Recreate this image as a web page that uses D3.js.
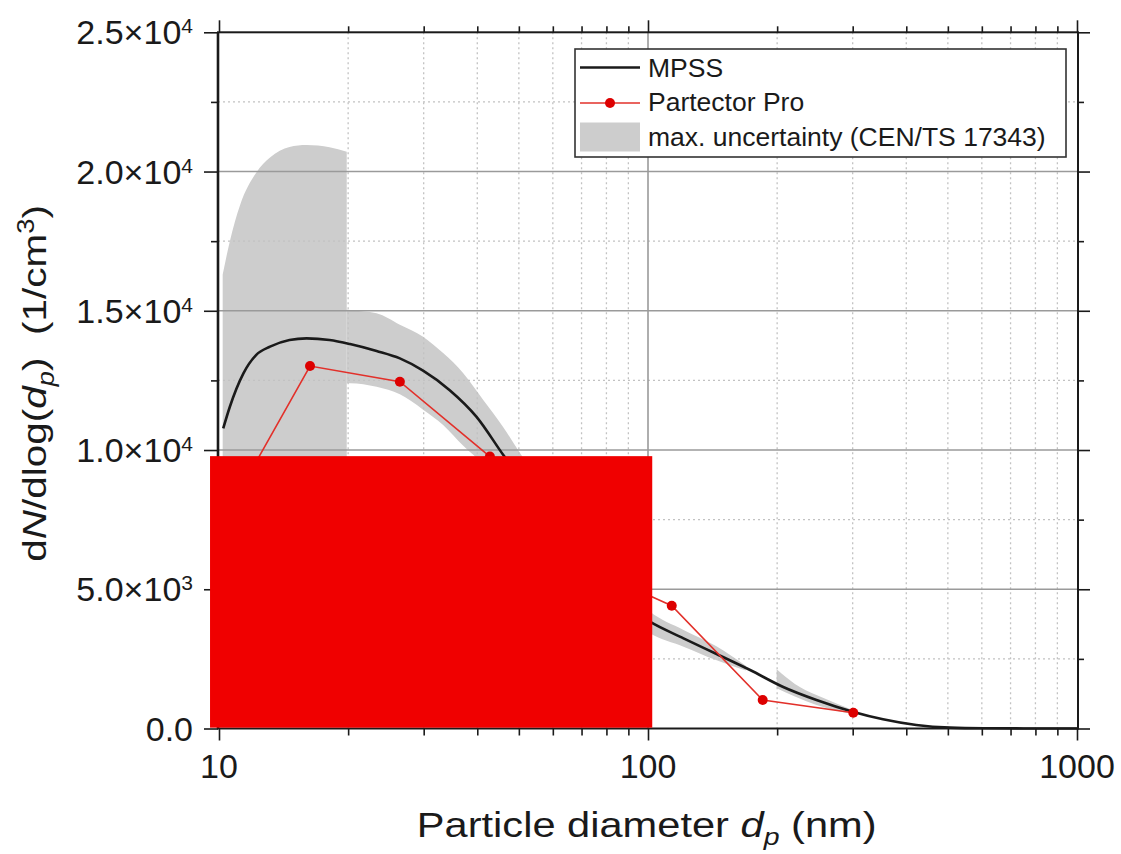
<!DOCTYPE html>
<html><head><meta charset="utf-8">
<script src="https://cdn.jsdelivr.net/npm/d3@7"></script>
<style>
body{margin:0;background:#fff}
svg{display:block}
text{font-family:"Liberation Sans",Arial,Helvetica,sans-serif;fill:#1a1a1a}
</style>
</head><body>
<svg id="c" width="1121" height="854"></svg>
<script>
// ---------------- data ----------------
const mpssD = [10.23,10.6,11.4,12.2,13.15,14.6,16.0,18.1,20.2,23.3,26.4,29.9,34.5,39.8,46.0,50,55,60,65,70,75,80,90,101,121,144.5,173,206,247,300,353,422,506,607,750,1000];
const mpssV = [10780,11555,12754,13410,13710,13950,14010,13950,13805,13555,13290,12850,12150,11200,9820,9050,8150,7350,6650,6000,5450,5000,4350,3835,3238,2675,2100,1500,1023,603,330,126,30,7,2,0];

const partD = [10.06,16.3,26.4,42.8,69.3,113.6,185.1,301];
const partV = [7270,13016,12453,9763,5900,4410,1023,567];

// uncertainty band, three pieces
const band1D  = [10.2,10.6,11.2,12.2,13.15,14.6,16.0,18.1,19.85];
const band1Lo = [5400,5800,6400,6700,6850,7000,7000,6950,6900];
const band1Hi = [16300,17500,18800,19950,20500,20880,20950,20870,20710];

const band2D  = [19.85,20.2,23.3,26.4,29.9,33.3,37.1,41.3,45.9,50.3,60,70,80,90,101,121,144,169];
const band2Lo = [12400,12400,12270,12000,11450,10900,10150,9500,8750,8100,6700,5600,4700,4000,3420,2940,2460,2080];
const band2Hi = [15050,15030,14910,14500,14070,13480,12760,11800,10840,9890,8200,6900,5850,4950,4200,3540,2960,2250];

const band3D  = [199.5,220,247,275,300];
const band3Lo = [1443,1150,844,640,520];
const band3Hi = [2125,1600,1200,900,664];

const xMajorTicks = [10,100,1000];
const xTickLabels = ["10","100","1000"];
const xMinorTicks = [20,30,40,50,60,70,80,90,200,300,400,500,600,700,800,900];
const yMajorTicks = [0,5000,10000,15000,20000,25000];
const yTickMantissa = ["0.0","5.0×10","1.0×10","1.5×10","2.0×10","2.5×10"];
const yTickExponent = ["","3","4","4","4","4"];
const yMinorTicks = [2500,7500,12500,17500,22500];
const legendLabels = ["MPSS","Partector Pro","max. uncertainty (CEN/TS 17343)"];
// red box that hides part of the reference picture (data units)
const occluderX = [9.53,102.3];
const occluderY = [30,9780];

// ---------------- layout ----------------
const L = 218, R = 1078, T = 32.3, B = 728.5;
const svg = d3.select("#c");
const x = d3.scaleLog().domain([10,1000]).range([219,1077]);
const y = d3.scaleLinear().domain([0,25000]).range([728.5,32.3]);

const zip3 = (a,b,c)=>a.map((d,i)=>[d,b[i],c[i]]);
const area = d3.area().x(d=>x(d[0])).y0(d=>y(d[1])).y1(d=>y(d[2])).curve(d3.curveMonotoneX);
const bandCol = "#cdcdcd";
[zip3(band1D,band1Lo,band1Hi), zip3(band2D,band2Lo,band2Hi), zip3(band3D,band3Lo,band3Hi)].forEach(b=>{
  svg.append("path").attr("d",area(b)).attr("fill",bandCol);
});

// grid
const grid = svg.append("g");
grid.selectAll(".hmin").data(yMinorTicks).join("line")
  .attr("x1",L).attr("x2",R).attr("y1",d=>y(d)).attr("y2",d=>y(d))
  .attr("stroke","#c2c2c2").attr("stroke-width",1.3).attr("stroke-dasharray","2,3");
grid.selectAll(".vmin").data(xMinorTicks).join("line")
  .attr("y1",T).attr("y2",B).attr("x1",d=>x(d)).attr("x2",d=>x(d))
  .attr("stroke","#c2c2c2").attr("stroke-width",1.3).attr("stroke-dasharray","2,3");
grid.selectAll(".hmaj").data(yMajorTicks.filter(v=>v>0&&v<25000)).join("line")
  .attr("x1",L).attr("x2",R).attr("y1",d=>y(d)).attr("y2",d=>y(d))
  .attr("stroke","#9a9a9a").attr("stroke-width",1.6);
grid.selectAll(".vmaj").data(xMajorTicks.filter(v=>v>10&&v<1000)).join("line")
  .attr("y1",T).attr("y2",B).attr("x1",d=>x(d)).attr("x2",d=>x(d))
  .attr("stroke","#9a9a9a").attr("stroke-width",1.6);

// MPSS
const line = d3.line().x(d=>x(d[0])).y(d=>y(d[1]));
svg.append("path").attr("d",line.curve(d3.curveMonotoneX)(mpssD.map((d,i)=>[d,mpssV[i]])))
  .attr("fill","none").attr("stroke","#1a1a1a").attr("stroke-width",2.6);

// Partector
const pData = partD.map((d,i)=>[d,partV[i]]);
svg.append("path").attr("d",d3.line().x(d=>x(d[0])).y(d=>y(d[1]))(pData))
  .attr("fill","none").attr("stroke","#e2302a").attr("stroke-width",1.6);
svg.selectAll(".pt").data(pData).join("circle")
  .attr("cx",d=>x(d[0])).attr("cy",d=>y(d[1])).attr("r",5).attr("fill","#dd0000");

// axes ticks
function styleAxis(g){ g.select(".domain").remove(); g.selectAll("line").attr("stroke","#1a1a1a").attr("stroke-width",1.6); g.selectAll("text").remove(); }
svg.append("g").attr("transform",`translate(0,${B})`).call(d3.axisBottom(x).tickValues(xMajorTicks).tickSize(12).tickFormat("")).call(styleAxis);
svg.append("g").attr("transform",`translate(0,${B})`).call(d3.axisBottom(x).tickValues(xMinorTicks).tickSize(7).tickFormat("")).call(styleAxis);
svg.append("g").attr("transform",`translate(0,${T})`).call(d3.axisTop(x).tickValues(xMajorTicks).tickSize(12).tickFormat("")).call(styleAxis);
svg.append("g").attr("transform",`translate(0,${T})`).call(d3.axisTop(x).tickValues(xMinorTicks).tickSize(6).tickFormat("")).call(styleAxis);
svg.append("g").attr("transform",`translate(${L},0)`).call(d3.axisLeft(y).tickValues(yMajorTicks).tickSize(14).tickFormat("")).call(styleAxis);
svg.append("g").attr("transform",`translate(${L},0)`).call(d3.axisLeft(y).tickValues(yMinorTicks).tickSize(7).tickFormat("")).call(styleAxis);
svg.append("g").attr("transform",`translate(${R},0)`).call(d3.axisRight(y).tickValues(yMajorTicks).tickSize(12).tickFormat("")).call(styleAxis);
svg.append("g").attr("transform",`translate(${R},0)`).call(d3.axisRight(y).tickValues(yMinorTicks).tickSize(6).tickFormat("")).call(styleAxis);

// frame
svg.append("rect").attr("x",L).attr("y",T).attr("width",R-L).attr("height",B-T)
  .attr("fill","none").attr("stroke","#1a1a1a").attr("stroke-width",2);
svg.append("line").attr("x1",L).attr("x2",L).attr("y1",T).attr("y2",B)
  .attr("stroke","#1a1a1a").attr("stroke-width",2.6);

// occluder (as in the reference picture)
svg.append("rect").attr("x",x(occluderX[0])).attr("width",x(occluderX[1])-x(occluderX[0]))
  .attr("y",y(occluderY[1])).attr("height",y(occluderY[0])-y(occluderY[1])).attr("fill","#f00000");

// tick labels
svg.selectAll(".xl").data(xMajorTicks).join("text")
  .attr("x",d=>x(d)).attr("y",778).attr("text-anchor","middle").attr("font-size",34)
  .text((d,i)=>xTickLabels[i]);
const yl = svg.selectAll(".yl").data(yMajorTicks).join("text")
  .attr("x",193).attr("y",d=>y(d)+12).attr("text-anchor","end").attr("font-size",34);
yl.append("tspan").text((d,i)=>yTickMantissa[i]);
yl.append("tspan").attr("font-size",21).attr("dy",-11).text((d,i)=>yTickExponent[i]);

// legend
const lg = svg.append("g");
lg.append("rect").attr("x",575).attr("y",49).attr("width",491).attr("height",108)
  .attr("fill","#fff").attr("stroke","#333").attr("stroke-width",1.6);
lg.append("line").attr("x1",580).attr("x2",640).attr("y1",67.5).attr("y2",67.5).attr("stroke","#1a1a1a").attr("stroke-width",2.6);
lg.append("line").attr("x1",580).attr("x2",640).attr("y1",103).attr("y2",103).attr("stroke","#e2302a").attr("stroke-width",1.6);
lg.append("circle").attr("cx",610).attr("cy",103).attr("r",5).attr("fill","#dd0000");
lg.append("rect").attr("x",580).attr("y",122.5).attr("width",60).attr("height",29).attr("fill",bandCol);
lg.selectAll(".lt").data(legendLabels).join("text")
  .attr("x",648).attr("y",(d,i)=>[76.5,111,145.5][i]).attr("font-size",26.5).text(d=>d);

// axis titles
const xt = svg.append("g").attr("transform","translate(646.7,836.7)");
const xtt = xt.append("text").attr("text-anchor","middle").attr("font-size",35);
xtt.append("tspan").text("Particle diameter ");
xtt.append("tspan").attr("font-style","italic").text("d");
xtt.append("tspan").attr("font-style","italic").attr("font-size",24).attr("dy",8).text("p");
xtt.append("tspan").attr("dy",-8).text(" (nm)");
const xs = 460/xtt.node().getComputedTextLength();
xt.attr("transform",`translate(646.7,836.7) scale(${xs},1)`);

const yt = svg.append("g");
const ytt = yt.append("text").attr("text-anchor","middle").attr("font-size",34);
ytt.append("tspan").text("d");
ytt.append("tspan").attr("font-style","italic").text("N");
ytt.append("tspan").text("/dlog(");
ytt.append("tspan").attr("font-style","italic").text("d");
ytt.append("tspan").attr("font-style","italic").attr("font-size",23).attr("dy",8).text("p");
ytt.append("tspan").attr("dy",-8).text(")\u00a0 (1/cm");
ytt.append("tspan").attr("font-size",23).attr("dy",-12).text("3");
ytt.append("tspan").attr("dy",12).text(")");
const ys = 357/ytt.node().getComputedTextLength();
yt.attr("transform",`translate(46,383.5) rotate(-90) scale(${ys},1)`);
</script>
</body></html>
